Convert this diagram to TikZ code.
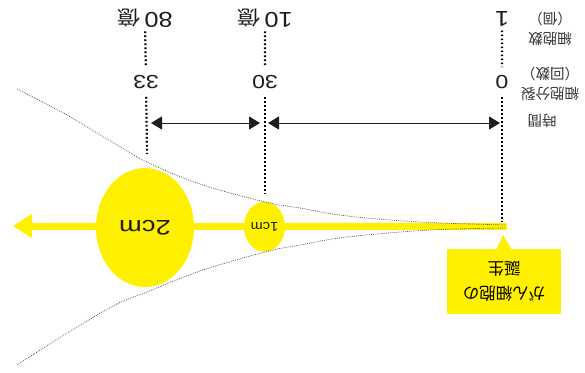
\documentclass[tikz,border=0pt]{standalone}
\usepackage{fontspec}
\setmainfont{Liberation Sans}
\newfontfamily\jp{Noto Sans CJK JP}
\usetikzlibrary{arrows.meta,shapes.geometric}
\definecolor{yel}{RGB}{255,240,0}
\definecolor{ink}{RGB}{30,30,30}
\tikzset{
  flip/.style={rotate=180},
  topnum/.style={flip, xscale=1.18, inner sep=4pt, text=ink, font=\fontsize{21.5}{24}\selectfont},
  midnum/.style={flip, xscale=1.22, inner sep=8pt, text=ink, font=\fontsize{19}{22}\selectfont},
  lbl/.style={flip, align=center, inner sep=0pt, text=ink!90, font=\jp\fontsize{14.5}{19.5}\selectfont},
  vdot/.style={line width=2.2pt, dash pattern=on 1.6pt off 2.4pt, black},
  dimarrow/.style={line width=1pt, ink, {Triangle[length=11pt,width=13pt]}-{Triangle[length=11pt,width=13pt]}},
  funnel/.style={line width=0.7pt, black!70, dash pattern=on 0.8pt off 1.1pt},
  cell/.style={ellipse, fill=yel, inner sep=0pt, flip, text=ink}
}
\newcommand{\oku}{{\fontsize{19.5}{22}\jp\selectfont\raisebox{-2pt}{億}}}
\begin{document}
\begin{tikzpicture}[x=1pt,y=-1pt]
\useasboundingbox (0,0) rectangle (585,372);

% top numbers (cells)
\node[topnum] (n1)  at (502,19) {1};
\node[topnum] (n10) at (265,18) {10\,\oku};
\node[topnum] (n80) at (145,18) {80\,\oku};
% division counts
\node[midnum] (d0)  at (502,82) {0};
\node[midnum] (d30) at (265,82) {30};
\node[midnum] (d33) at (146,82) {33};

% labels on the right
\node[lbl] (l1) at (550,29) {細胞数\\（個）};
\node[lbl] (l2) at (550,84) {細胞分裂\\（回数）};
\node[lbl] (l3) at (542,121) {時間};

% ends of dotted lines
\coordinate (b0)  at (502,222);
\coordinate (b30) at (265,193);
\coordinate (b33) at (147,154);
\draw[vdot] (n1) -- (d0);
\draw[vdot] (n10) -- (d30);
\draw[vdot] (n80) -- (d33);
\draw[vdot] (d0) -- (b0);
\draw[vdot] (d30) -- (b30);
\draw[vdot] (d33) -- (b33);

% time span arrows
\coordinate (a1) at (151,123);
\coordinate (a2) at (260,123);
\coordinate (a3) at (268,123);
\coordinate (a4) at (500,123);
\draw[dimarrow] (a1) -- (a2);
\draw[dimarrow] (a3) -- (a4);

% yellow growth arrow
\coordinate (ys) at (507,226);
\coordinate (ye) at (13,226);
\draw[yel, line width=7pt, -{Triangle[length=19pt,width=23pt]}] (ys) -- (ye);

% cells
\node[cell, minimum width=98pt, minimum height=119pt, font=\fontsize{21}{24}\selectfont] (c2) at (145,227.5) {\scalebox{1.3}[1]{2cm}};
\node[cell, minimum width=41pt, minimum height=50pt, font=\fontsize{13}{15}\selectfont] (c1) at (264.5,226.7) {\scalebox{1.12}[1]{1cm}};

% funnel curves
\draw[funnel] plot[smooth, tension=0.6] coordinates {(17,89) (67,115) (112,142) (147,162) (200,184) (265,202) (300,208) (347,216) (420,222) (505,225)};
\draw[funnel] plot[smooth, tension=0.6] coordinates {(17,365) (67,333) (117,304) (147,292) (200,271) (265,252) (300,245) (347,237) (430,230) (505,228)};

% callout
\fill[yel] (496,250) -- (503,235) -- (512,250) -- cycle;
\node[flip, fill=yel, minimum width=114pt, minimum height=65pt, align=center, inner sep=0pt, text=black, font=\jp\fontsize{16.5}{25}\selectfont] (cb) at (504,281.5) {がん細胞の\\誕生};
\end{tikzpicture}
\end{document}
